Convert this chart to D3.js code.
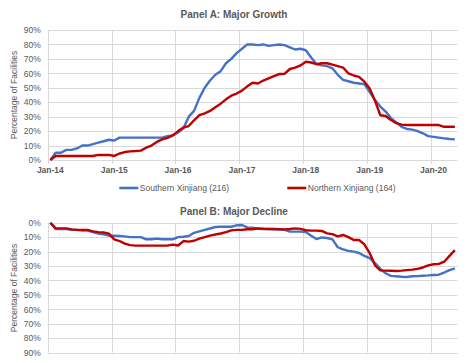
<!DOCTYPE html>
<html>
<head>
<meta charset="utf-8">
<script src="https://cdn.jsdelivr.net/npm/d3@7"></script>
<style>
  body { margin: 0; background: #fff; }
  svg { font-family: "Liberation Sans", Arial, sans-serif; }
  .tick text { fill: #595959; }
</style>
</head>
<body>
<div class="chart"></div>
<script>
'use strict';

// months Jan-14 .. May-20
var firstMonth = new Date(2014, 0, 1);
var lastMonth = new Date(2020, 4, 1);
var yearTicks = ['Jan-14', 'Jan-15', 'Jan-16', 'Jan-17', 'Jan-18', 'Jan-19', 'Jan-20'];
var pctTicks = [0, 0.1, 0.2, 0.3, 0.4, 0.5, 0.6, 0.7, 0.8, 0.9];

var seriesNames = ['Southern Xinjiang (216)', 'Northern Xinjiang (164)'];
var seriesColors = ['#4472C4', '#C00000'];

// Panel A: Major Growth (%)
var growthSouth = [0, 5, 5, 7, 7, 8, 10, 10, 11, 12, 13, 14,
  13.5, 15.5, 15.5, 15.5, 15.5, 15.5, 15.5, 15.5, 15.5, 15.5, 16.5, 17,
  19, 22, 30, 34, 43, 50, 55, 59, 61.5, 67, 70, 74,
  77, 80, 80, 79.5, 80, 79, 79.5, 80, 79.5, 78, 76.5, 77,
  76, 71, 66.5, 65.5, 65, 63.5, 59, 55.5, 54.5, 53.5, 53, 52.5,
  47, 41.5, 37, 33.5, 29, 26, 23, 21.5, 21, 20, 18.5, 16.5,
  16, 15.5, 15, 14.5, 14.3];
var growthNorth = [0, 2.8, 2.8, 2.8, 2.8, 2.8, 2.8, 2.8, 2.8, 3.5, 3.5, 3.5,
  2.8, 4.5, 5.5, 6, 6.2, 6.5, 8.5, 10, 12.5, 14.3, 15.3, 17,
  20, 22.5, 23.5, 27.5, 31, 32.3, 34, 36.5, 39, 42, 44.5, 46,
  48, 51, 53.5, 53, 55, 56.5, 58, 59.5, 59.6, 63, 64, 65.5,
  68, 67.5, 66.3, 67, 67, 66, 65, 64, 60, 58.5, 57.5, 54.2,
  49.5, 41, 31, 30.5, 27.7, 25.5, 24.5, 24.2, 24.2, 24.2, 24.2, 24.2,
  24.2, 24.2, 23, 23, 23];

// Panel B: Major Decline (%)
var declineSouth = [0, 4.4, 4.4, 4.4, 5, 5, 5.5, 5.5, 6.5, 7.5, 8, 9,
  9, 9.2, 9.5, 10, 10, 10, 11.5, 11.5, 11, 11.5, 11.5, 11.5,
  10, 9.7, 9.2, 7, 6, 5, 4, 3, 2.8, 2.8, 2.8, 1.8,
  1.6, 3.2, 3.5, 4.2, 4.4, 4.4, 4.5, 4.6, 5, 6.2, 6.2, 6.2,
  6.5, 9, 11.3, 10.2, 10.6, 11.5, 17, 18.5, 19.5, 20, 21, 23,
  24.5, 28, 32, 35, 36.8, 37.1, 37.4, 37.6, 37.1, 37, 36.7, 36.5,
  36.2, 36, 34.5, 32.8, 31.6];
var declineNorth = [0, 3.9, 3.9, 3.9, 4.6, 5, 5, 5, 6, 6.5, 6.7, 7.6,
  11.5, 12.7, 14.5, 15.5, 15.9, 15.9, 15.9, 15.9, 15.9, 15.9, 15.9, 15.2,
  15.8, 12.7, 13.1, 12.5, 11, 10, 9, 8.2, 7.5, 6.5, 5.3, 5,
  5, 4.5, 4.5, 3.9, 4.2, 4.4, 4.4, 4.5, 4.6, 4.4, 3.9, 4.3,
  5.2, 5.5, 5.5, 5.7, 7.4, 7.9, 9.5, 8.5, 10, 12, 12, 15,
  21, 29.5, 33, 33.2, 33.3, 33.4, 33.2, 32.8, 32.5, 32, 31, 29.5,
  28.8, 28.5, 27, 23, 19];

var fmtMonth = d3.timeFormat('%b-%y');
var months = d3.timeMonth.range(firstMonth, d3.timeMonth.offset(lastMonth, 1)).map(fmtMonth);

var width = 468, height = 363;
var plotLeft = 47.7, plotRight = 457.5;

var svg = d3.select('.chart').append('svg')
  .attr('width', width)
  .attr('height', height);

var x = d3.scaleBand()
  .domain(months)
  .range([plotLeft, plotRight])
  .padding(0);

var yA = d3.scaleLinear().domain([0, 0.9]).range([160, 30]);
var yB = d3.scaleLinear().domain([0, 0.9]).range([222.7, 352.7]);

function drawPanel(title, titleY, y, south, north, showX, labelY) {
  var g = svg.append('g');

  g.append('text')
    .attr('x', width / 2)
    .attr('y', titleY)
    .attr('text-anchor', 'middle')
    .attr('font-size', '10px')
    .attr('font-weight', 'bold')
    .attr('fill', '#595959')
    .text(title);

  // horizontal gridlines
  g.selectAll('.hgrid')
    .data(pctTicks)
    .enter().append('line')
    .attr('x1', plotLeft)
    .attr('x2', plotRight)
    .attr('y1', function(d) { return Math.round(y(d)) + 0.5; })
    .attr('y2', function(d) { return Math.round(y(d)) + 0.5; })
    .attr('stroke', '#d9d9d9')
    .attr('stroke-width', 1);

  // vertical gridlines at january boundaries
  var yr = y.range();
  var top = Math.min(yr[0], yr[1]), bottom = Math.max(yr[0], yr[1]);
  g.selectAll('.vgrid')
    .data(yearTicks)
    .enter().append('line')
    .attr('x1', function(d) { return Math.round(x(d)) + 0.5; })
    .attr('x2', function(d) { return Math.round(x(d)) + 0.5; })
    .attr('y1', top)
    .attr('y2', bottom + (showX ? 4 : 0))
    .attr('stroke', '#d9d9d9')
    .attr('stroke-width', 1);

  var yAxis = g.append('g')
    .attr('transform', 'translate(' + plotLeft + ',0)')
    .call(d3.axisLeft(y).tickValues(pctTicks).tickFormat(d3.format('.0%')).tickSize(0).tickPadding(7));
  yAxis.select('.domain').remove();
  yAxis.selectAll('text').attr('font-size', '8.5px').attr('font-family', '"Liberation Sans", Arial, sans-serif');

  if (showX) {
    var xAxis = g.append('g')
      .attr('transform', 'translate(0,' + bottom + ')')
      .call(d3.axisBottom(x).tickValues(yearTicks).tickSize(0).tickPadding(7));
    xAxis.select('.domain').remove();
    xAxis.selectAll('text')
      .attr('font-size', '8.5px')
      .attr('font-weight', 'bold')
      .attr('font-family', '"Liberation Sans", Arial, sans-serif')
      .attr('fill', '#404040');
  }

  g.append('text')
    .attr('transform', 'translate(17,' + labelY + ') rotate(-90)')
    .attr('text-anchor', 'middle')
    .attr('font-size', '8.5px')
    .attr('fill', '#595959')
    .text('Percentage of Facilities');

  var line = d3.line()
    .x(function(d, i) { return x(months[i]) + x.bandwidth() / 2; })
    .y(function(d) { return y(d / 100); });

  [south, north].forEach(function(s, k) {
    g.append('path')
      .datum(s)
      .attr('fill', 'none')
      .attr('stroke', seriesColors[k])
      .attr('stroke-width', 2.4)
      .attr('stroke-linejoin', 'round')
      .attr('d', line);
  });
}

drawPanel('Panel A: Major Growth', 17.5, yA, growthSouth, growthNorth, true, 95);
drawPanel('Panel B: Major Decline', 214.5, yB, declineSouth, declineNorth, false, 288);

// legend
var legendX = [119.3, 287.3];
var legend = svg.append('g');
seriesNames.forEach(function(name, k) {
  legend.append('line')
    .attr('x1', legendX[k])
    .attr('x2', legendX[k] + 19)
    .attr('y1', 188)
    .attr('y2', 188)
    .attr('stroke', seriesColors[k])
    .attr('stroke-width', 2.6);
  legend.append('text')
    .attr('x', legendX[k] + 20.5)
    .attr('y', 191)
    .attr('font-size', '8.5px')
    .attr('fill', '#595959')
    .text(name);
});
</script>
</body>
</html>
